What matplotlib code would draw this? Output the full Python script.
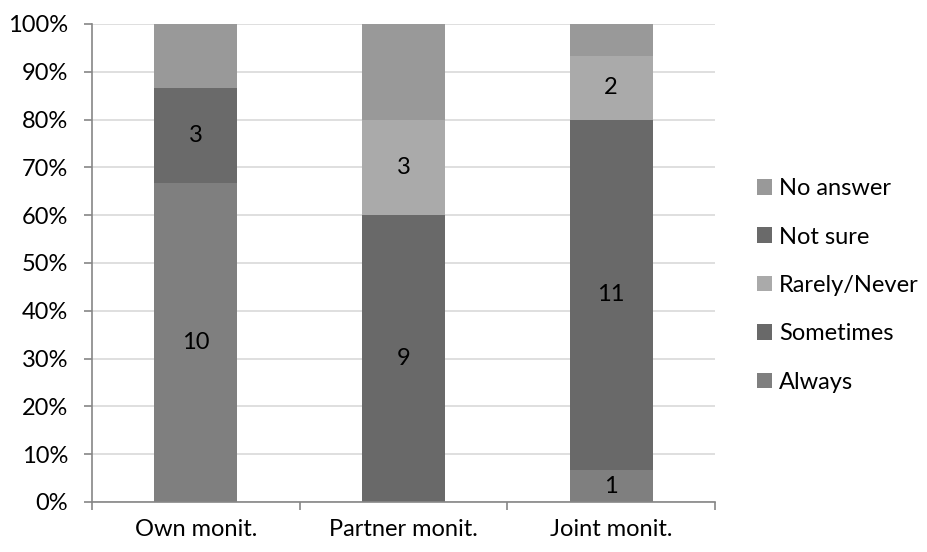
import matplotlib.pyplot as plt
from matplotlib.ticker import MultipleLocator, PercentFormatter
import numpy as np

plt.rcParams['font.family'] = ['Lato', 'DejaVu Sans']

categories = ["Own monit.", "Partner monit.", "Joint monit."]
series = ["Always", "Sometimes", "Rarely/Never", "Not sure", "No answer"]
always = [10, 0, 1]
sometimes = [0, 9, 11]
rarely = [0, 3, 2]
not_sure = [3, 0, 0]
no_answer = [2, 3, 1]
colors = ["#7f7f7f", "#696969", "#aaaaaa", "#6a6a6a", "#999999"]
labelled = [True, True, True, True, False]

counts = np.array([always, sometimes, rarely, not_sure, no_answer], dtype=float)
shares = counts / counts.sum(axis=0) * 100

fs = 17
fig = plt.figure(figsize=(9.27, 5.52), dpi=100)
ax = fig.add_axes([0.0992, 0.0906, 0.672, 0.866])

x = np.arange(len(categories))
bottom = np.zeros(len(categories))
for name, vals, cnt, col, lab in zip(series, shares, counts, colors, labelled):
    bars = ax.bar(x, vals, 0.4, bottom=bottom, color=col, label=name, zorder=2)
    if lab:
        for b, c, v, y0 in zip(bars, cnt, vals, bottom):
            if c > 0:
                ax.text(b.get_x() + b.get_width() / 2, y0 + v / 2, f"{int(c)}",
                        ha="center", va="center", fontsize=fs, color="black")
    bottom += vals

ax.set_xlim(-0.5, 2.5)
ax.set_ylim(0, 100)
ax.yaxis.set_major_locator(MultipleLocator(10))
ax.yaxis.set_major_formatter(PercentFormatter(decimals=0))
ax.grid(axis="y", color="#d9d9d9", linewidth=1.2, zorder=0)

ax.set_xticks(x)
ax.set_xticklabels(categories)
ax.set_xticks([-0.5, 0.5, 1.5, 2.5], minor=True)
ax.tick_params(axis="x", which="major", length=0, pad=12, labelsize=fs)
ax.tick_params(axis="x", which="minor", length=6, color="#868686", width=1.2)
ax.tick_params(axis="y", length=6, color="#868686", width=1.2, labelsize=fs, pad=11)

for side in ["top", "right"]:
    ax.spines[side].set_visible(False)
for side in ["left", "bottom"]:
    ax.spines[side].set_color("#868686")
    ax.spines[side].set_linewidth(1.2)

handles, labels = ax.get_legend_handles_labels()
ax.legend(handles[::-1], labels[::-1], loc="center left", bbox_to_anchor=(1.067, 0.453),
          frameon=False, fontsize=fs, handlelength=0.64, handleheight=0.64,
          handletextpad=0.3, labelspacing=1.16, borderpad=0, borderaxespad=0)

fig.savefig("out.png", dpi=100)
